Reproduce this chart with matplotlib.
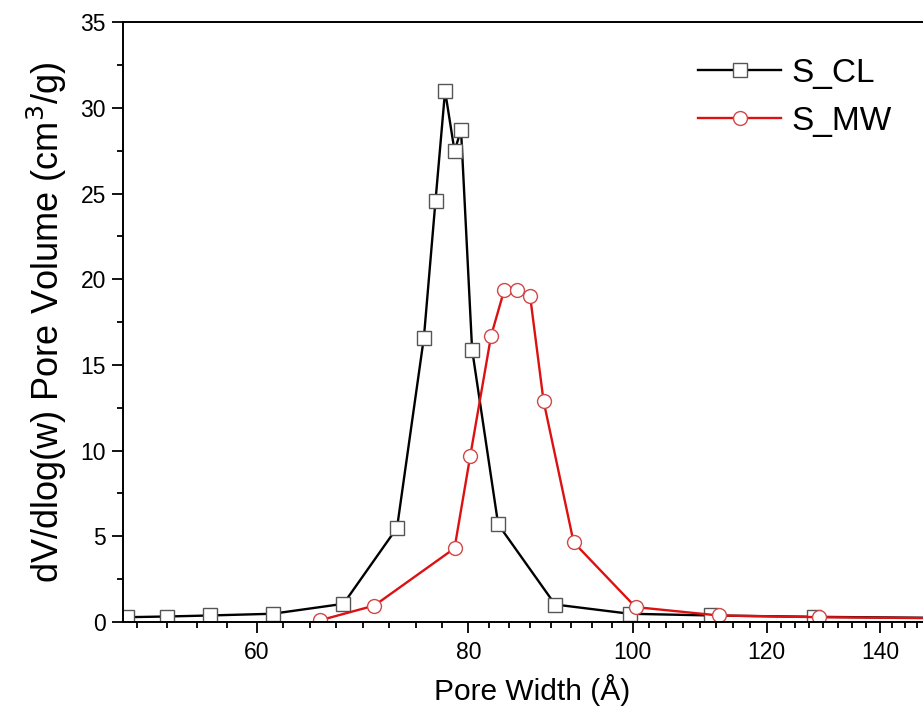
import numpy as np
import matplotlib
matplotlib.use("Agg")
import matplotlib.pyplot as plt
from matplotlib.ticker import FixedLocator, FixedFormatter, NullFormatter

plt.rcParams['font.family'] = ['Liberation Sans', 'DejaVu Sans']

# pore width (A) and dV/dlog(w)
cl_width = [50.3, 53.1, 56.3, 61.3, 67.5, 72.6, 75.3, 76.5, 77.5, 78.5, 79.2, 80.4, 83.3, 90.0, 99.6, 111.3, 128.0, 160.0]
cl_volume = [0.28, 0.32, 0.38, 0.48, 1.06, 5.5, 16.6, 24.6, 31.0, 27.5, 28.7, 15.9, 5.7, 1.02, 0.48, 0.38, 0.3, 0.22]

mw_width = [65.4, 70.4, 78.5, 80.2, 82.5, 84.0, 85.5, 87.0, 88.6, 92.3, 100.4, 112.4, 128.9, 160.0]
mw_volume = [0.1, 0.96, 4.3, 9.7, 16.7, 19.4, 19.4, 19.0, 12.9, 4.65, 0.87, 0.38, 0.28, 0.2]

major_x = [60, 80, 100, 120, 140]
y_ticks = [0, 5, 10, 15, 20, 25, 30, 35]

fig = plt.figure(figsize=(9.23, 7.11), dpi=100)
ax = fig.add_axes([0.1329, 0.1252, 0.8671, 0.8434])

ax.plot(cl_width, cl_volume, color='black', lw=1.7, marker='s', ms=9.5,
        mfc='white', mec='#555555', mew=1.0, label='S_CL')
ax.plot(mw_width, mw_volume, color='#dd1111', lw=1.7, marker='o', ms=10,
        mfc='white', mec='#d04848', mew=1.0, label='S_MW')

ax.set_xscale('log')
ax.set_xlim(50.0, 148.4)
ax.set_ylim(0, 35)

# origin style minor ticks: evenly spaced in log space between majors
edges = [40] + major_x + [160]
minor = []
for a, b in zip(edges[:-1], edges[1:]):
    n = 9 if a == 40 else 7
    for k in range(1, n + 1):
        minor.append(a * (b / a) ** (k / (n + 1)))
ax.xaxis.set_major_locator(FixedLocator(major_x))
ax.xaxis.set_minor_locator(FixedLocator(minor))
ax.xaxis.set_major_formatter(FixedFormatter([str(v) for v in major_x]))
ax.xaxis.set_minor_formatter(NullFormatter())

ax.yaxis.set_major_locator(FixedLocator(y_ticks))
ax.yaxis.set_minor_locator(FixedLocator(np.arange(2.5, 35, 5)))

ax.spines['right'].set_visible(False)
for s in ['left', 'bottom', 'top']:
    ax.spines[s].set_linewidth(1.4)

ax.tick_params(which='major', direction='out', length=8, width=1.3, labelsize=16.5)
ax.tick_params(which='minor', direction='out', length=4.5, width=1.3)
ax.tick_params(axis='x', which='major', pad=6)
ax.tick_params(axis='y', which='major', pad=4)
ax.tick_params(top=False, right=False, which='both')

ax.set_xlabel('Pore Width (Å)', fontsize=21.5)
ax.xaxis.set_label_coords(0.511, -0.086)
ax.set_ylabel('dV/dlog(w) Pore Volume (cm$^3$/g)', fontsize=26, labelpad=8)

ax.legend(loc='upper left', bbox_to_anchor=(698 / 923, 1 - 58 / 711),
          bbox_transform=fig.transFigure, frameon=False, fontsize=24,
          numpoints=1, handlelength=2.5, handletextpad=0.3, labelspacing=0.5,
          borderpad=0, borderaxespad=0)

fig.savefig('out.png', dpi=100)
